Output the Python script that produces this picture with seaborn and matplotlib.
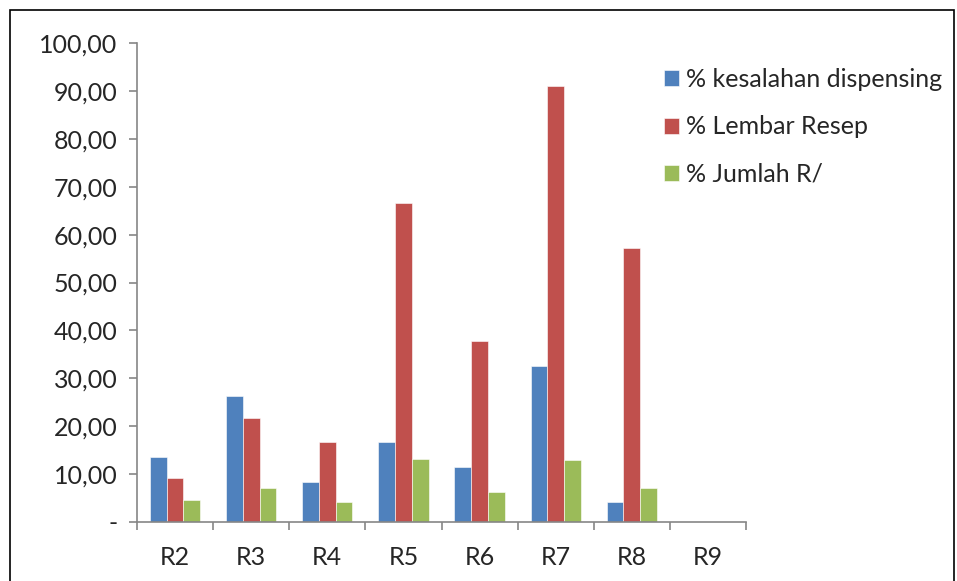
import pandas as pd
import numpy as np
import matplotlib.pyplot as plt
import seaborn as sns
from matplotlib.patches import Rectangle
from matplotlib.ticker import FuncFormatter

categories = ['R2', 'R3', 'R4', 'R5', 'R6', 'R7', 'R8', 'R9']
series_names = ['% kesalahan dispensing', '% Lembar Resep', '% Jumlah R/']
kesalahan = [13.6, 26.3, 8.4, 16.8, 11.4, 32.6, 4.1, 0.0]
lembar = [9.2, 21.7, 16.6, 66.7, 37.8, 91.1, 57.1, 0.0]
jumlah = [4.5, 7.1, 4.1, 13.2, 6.2, 12.9, 7.0, 0.0]
colors = ['#4F81BD', '#C0504D', '#9BBB59']

df = pd.DataFrame({'Kategori': categories * 3,
                   'Seri': np.repeat(series_names, len(categories)),
                   'Nilai': kesalahan + lembar + jumlah})

sns.set_style('white')
plt.rcParams['font.family'] = ['Lato', 'DejaVu Sans']
fs = 18

fig = plt.figure(figsize=(9.57, 5.81), dpi=100)
ax = fig.add_axes([137 / 957, 1 - 522 / 581, 609 / 957, 479 / 581])
sns.barplot(data=df, x='Kategori', y='Nilai', hue='Seri', order=categories,
            hue_order=series_names, palette=colors, width=0.66, ax=ax,
            edgecolor='white', linewidth=0.4, saturation=1)

ax.set_xlim(-0.5, 7.5)
ax.set_ylim(0, 100)
ax.set_yticks(np.arange(0, 101, 10))
ax.yaxis.set_major_formatter(FuncFormatter(
    lambda v, p: '-' if v == 0 else f'{v:.2f}'.replace('.', ',')))
ax.set_xlabel('')
ax.set_ylabel('')
ax.set_xticks(np.arange(-0.5, 8, 1), minor=True)
ax.tick_params(axis='x', which='major', length=0, pad=17, labelsize=fs)
ax.tick_params(axis='x', which='minor', length=6, width=1.2, color='#868686',
               direction='out', bottom=True)
ax.tick_params(axis='y', length=6, width=1.2, color='#868686', direction='out',
               left=True, pad=8, labelsize=fs)
for s in ['top', 'right']:
    ax.spines[s].set_visible(False)
for s in ['left', 'bottom']:
    ax.spines[s].set_color('#868686')
    ax.spines[s].set_linewidth(1.2)

handles, labels = ax.get_legend_handles_labels()
ax.legend(handles, labels, loc='upper left', bbox_to_anchor=(654 / 957, 1 - 58 / 581),
          bbox_transform=fig.transFigure, frameon=False, fontsize=fs,
          handlelength=0.6, handleheight=0.6, handletextpad=0.3,
          labelspacing=0.98, borderaxespad=0)

fig.patches.append(Rectangle((10 / 957, -0.1), 944 / 957, 1.1 - 10 / 581,
                             transform=fig.transFigure, fill=False,
                             edgecolor='black', linewidth=1.2))
fig.savefig('out.png', dpi=100)
